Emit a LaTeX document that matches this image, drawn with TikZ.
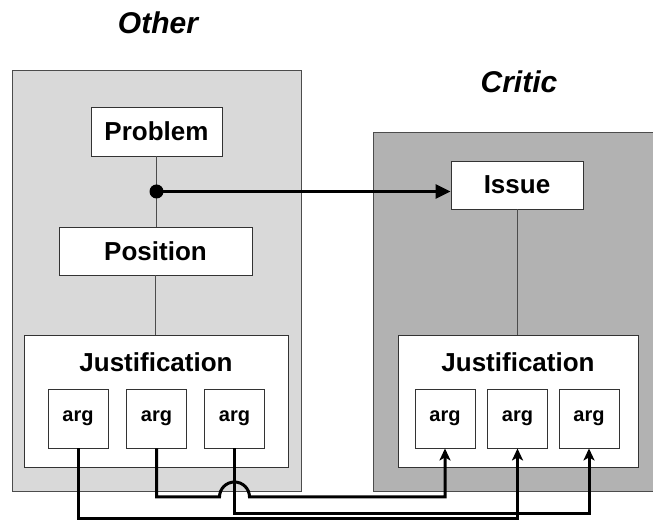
\documentclass[tikz,border=0pt]{standalone}
\usepackage{fontspec}
\setmainfont{Liberation Sans}
\usetikzlibrary{arrows.meta}
\begin{document}
\begin{tikzpicture}[x=1pt,y=1pt,
  panel/.style={draw=black!70, line width=0.9pt, inner sep=0pt},
  box/.style={draw=black!80, line width=0.9pt, fill=white, inner sep=0pt},
  lbl/.style={font=\bfseries\fontsize{26}{30}\selectfont, inner sep=0pt},
  argbox/.style={box, minimum width=60pt, minimum height=59pt, font=\bfseries\fontsize{20}{24}\selectfont},
  ttl/.style={font=\bfseries\itshape\fontsize{30}{34}\selectfont, inner sep=0pt},
  thinline/.style={draw=black!70, line width=0.9pt},
  wire/.style={line width=3pt, line join=miter},
  argtip/.style={-{Stealth[length=12pt,width=11pt,inset=3pt]}},
  ]
\useasboundingbox (0,0) rectangle (653,521);
\fill[white] (0,0) rectangle (653,521);
% panels
\node[panel, fill=black!15, minimum width=289pt, minimum height=421pt] (lp) at (156.5,240.5) {};
\node[panel, fill=black!30, minimum width=281pt, minimum height=359pt] (rp) at (513.5,209.5) {};
% titles
\node[ttl] (other) at (158,498) {Other};
\node[ttl] (critic) at (519,439) {Critic};
% left boxes
\node[box, lbl, minimum width=131pt, minimum height=49pt] (prob) at (156.5,389.5) {Problem};
\node[box, lbl, minimum width=193pt, minimum height=48pt] (pos) at (155.5,270) {Position};
\node[box, minimum width=264pt, minimum height=132pt] (lj) at (156,120) {};
\node[lbl] (ljt) at (156,159) {Justification};
\node[argbox] (la1) at (78,102.5) {arg};
\node[argbox] (la2) at (156.5,102.5) {arg};
\node[argbox] (la3) at (234.5,102.5) {arg};
% right boxes
\node[box, lbl, minimum width=132pt, minimum height=48pt] (iss) at (517,336) {Issue};
\node[box, minimum width=240pt, minimum height=132pt] (rj) at (518,120) {};
\node[lbl] (rjt) at (518,159) {Justification};
\node[argbox] (ra1) at (445,102.5) {arg};
\node[argbox] (ra2) at (517.5,102.5) {arg};
\node[argbox] (ra3) at (589,102.5) {arg};
% thin connectors
\draw[thinline] (prob.south) -- (prob.south |- pos.north);
\draw[thinline] (pos.south) -- (pos.south |- lj.north);
\draw[thinline] (iss.south) -- (iss.south |- rj.north);
% problem -> issue
\node[circle, fill=black, inner sep=0pt, minimum size=14pt] (dot) at (156.5,329.5) {};
\draw[wire, -{Triangle[length=15pt,width=14pt]}] (dot.center) -- (iss.west |- dot.center);
% argument wires
\coordinate (w1) at (0,2.5);
\coordinate (w2) at (0,24);
\coordinate (w3) at (0,7.5);
\coordinate (br) at (la3.south |- w2);
\draw[wire, argtip] (la1.south) -- (la1.south |- w1) -- (ra2.south |- w1) -- (ra2.south);
\draw[wire, argtip] (la3.south) -- (la3.south |- w3) -- (ra3.south |- w3) -- (ra3.south);
\draw[wire, argtip] (la2.south) -- (la2.south |- w2) -- ([xshift=-15pt]br) arc[start angle=180, end angle=0, radius=15pt] -- (ra1.south |- w2) -- (ra1.south);
\end{tikzpicture}
\end{document}
